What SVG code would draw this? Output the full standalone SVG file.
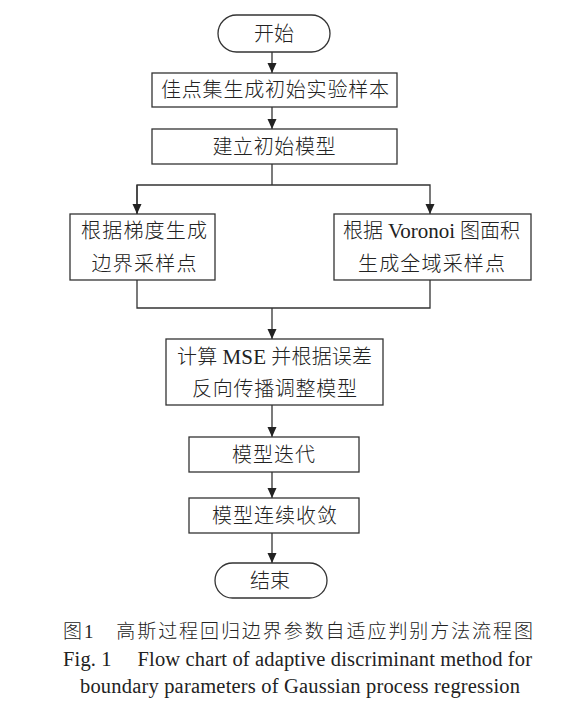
<svg xmlns="http://www.w3.org/2000/svg" width="583" height="721" viewBox="0 0 583 721">
<style>
.box{fill:#fff;stroke:#333;stroke-width:1.3}
.t{font-family:"Liberation Serif","Noto Sans CJK SC",serif;font-size:20px;font-weight:300;fill:#222;text-anchor:middle;dominant-baseline:central}
.c{font-family:"Liberation Serif","Noto Sans CJK SC",serif;font-weight:300;fill:#222}
.ln{fill:none;stroke:#333;stroke-width:1.3}
</style>
<defs>
<marker id="ah" markerWidth="11" markerHeight="10" refX="10" refY="4.5" orient="auto" markerUnits="userSpaceOnUse">
<path d="M0,0 L10,4.5 L0,9 Z" fill="#222"/>
</marker>
</defs>
<rect width="583" height="721" fill="#fff"/>
<g id="connectors">
<line class="ln" x1="272" y1="52" x2="272" y2="73" marker-end="url(#ah)"/>
<line class="ln" x1="272" y1="107" x2="272" y2="129" marker-end="url(#ah)"/>
<polyline class="ln" points="272,164 272,185"/>
<polyline class="ln" points="137,214 137,185 430,185 430,214" marker-end="url(#ah)"/>
<line class="ln" x1="137" y1="185" x2="137" y2="214" marker-end="url(#ah)"/>
<polyline class="ln" points="137,280 137,308 430,308 430,280"/>
<line class="ln" x1="272" y1="308" x2="272" y2="339" marker-end="url(#ah)"/>
<line class="ln" x1="272" y1="405" x2="272" y2="437" marker-end="url(#ah)"/>
<line class="ln" x1="272" y1="472" x2="272" y2="498" marker-end="url(#ah)"/>
<line class="ln" x1="272" y1="533" x2="272" y2="563" marker-end="url(#ah)"/>
</g>
<g id="start">
<rect class="box" x="218" y="15" width="112" height="37" rx="18.5"/>
<text class="t" x="274" y="33.5">开始</text>
</g>
<g id="n1">
<rect class="box" x="152" y="73" width="245" height="34"/>
<text class="t" x="275" y="90" textLength="228" lengthAdjust="spacing">佳点集生成初始实验样本</text>
</g>
<g id="n2">
<rect class="box" x="152" y="129" width="245" height="35"/>
<text class="t" x="274" y="146.5" textLength="123" lengthAdjust="spacing">建立初始模型</text>
</g>
<g id="left">
<rect class="box" x="70" y="214" width="145" height="66"/>
<text class="t" x="144" y="231" textLength="126" lengthAdjust="spacing">根据梯度生成</text>
<text class="t" x="144" y="264" textLength="105" lengthAdjust="spacing">边界采样点</text>
</g>
<g id="right">
<rect class="box" x="334" y="214" width="197" height="66"/>
<text class="t" x="431.5" y="231" textLength="177" lengthAdjust="spacing">根据 <tspan font-size="21">Voronoi</tspan> 图面积</text>
<text class="t" x="431.5" y="264" textLength="147" lengthAdjust="spacing">生成全域采样点</text>
</g>
<g id="mse">
<rect class="box" x="166" y="339" width="217" height="66"/>
<text class="t" x="274.5" y="356.5" textLength="195" lengthAdjust="spacing">计算 <tspan font-size="21">MSE</tspan> 并根据误差</text>
<text class="t" x="274.5" y="388.5" textLength="165" lengthAdjust="spacing">反向传播调整模型</text>
</g>
<g id="iter">
<rect class="box" x="189" y="437" width="170" height="35"/>
<text class="t" x="273.5" y="454.5" textLength="83" lengthAdjust="spacing">模型迭代</text>
</g>
<g id="conv">
<rect class="box" x="189" y="498" width="170" height="35"/>
<text class="t" x="274.5" y="515.5" textLength="125" lengthAdjust="spacing">模型连续收敛</text>
</g>
<g id="end">
<rect class="box" x="215" y="563" width="112" height="35" rx="17.5"/>
<text class="t" x="270" y="580.5">结束</text>
</g>
<g id="caption">
<text class="c" x="63" y="638" font-size="19" textLength="470" lengthAdjust="spacing">图1　高斯过程回归边界参数自适应判别方法流程图</text>
<text class="c" x="63" y="666" font-size="20.5" textLength="469" lengthAdjust="spacing">Fig. 1　 Flow chart of adaptive discriminant method for</text>
<text class="c" x="80" y="693" font-size="20.5" textLength="440" lengthAdjust="spacing">boundary parameters of Gaussian process regression</text>
</g>
</svg>
